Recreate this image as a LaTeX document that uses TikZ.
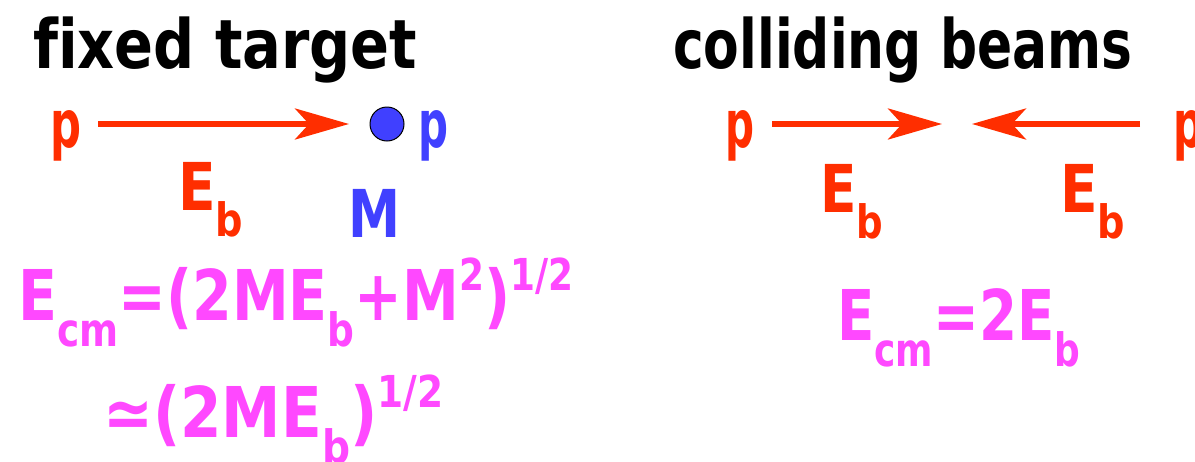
\documentclass[tikz,border=0pt]{standalone}
\usepackage{graphicx}
\usepackage{fontspec}
\setmainfont{DejaVu Sans}[Ligatures={NoCommon}]
\usetikzlibrary{arrows.meta}
\definecolor{pred}{HTML}{FF2E00}
\definecolor{pblue}{HTML}{4040FF}
\definecolor{pmag}{HTML}{FF48FF}
\newsavebox\fitbox
% scale content horizontally to a given width (in pt)
\newcommand\fitw[2]{\sbox\fitbox{#2}\pgfmathsetmacro\fitxs{#1/\wd\fitbox}\scalebox{\fitxs}[1]{\usebox\fitbox}}
\newcommand\lo[1]{\raisebox{-26pt}{\fontsize{46}{48}\selectfont #1}}
\newcommand\hi[1]{\raisebox{30pt}{\fontsize{44}{46}\selectfont #1}}
\tikzset{
  txt/.style={inner sep=0pt, anchor=base west},
  ttl/.style={txt, text=black, font=\fontsize{68}{70}\selectfont\bfseries},
  lbl/.style={txt, font=\fontsize{66}{68}\selectfont\bfseries},
  frm/.style={txt, text=pmag, font=\fontsize{70}{72}\selectfont\bfseries},
  beam/.style={pred, line width=5.5pt, -{Stealth[length=54pt, width=31pt, inset=14pt]}},
}
\begin{document}
\begin{tikzpicture}[x=1pt, y=-1pt]
\useasboundingbox (0,0) rectangle (1195,461);
% titles
\node[ttl] (t1) at (33,68) {\fitw{384}{fixed target}};
\node[ttl] (t2) at (673,68) {\fitw{459}{colliding beams}};
% fixed target
\node[lbl, text=pred] (p1) at (50,147) {\fitw{31}{p}};
\node[circle, draw=black, line width=1pt, fill=pblue, minimum size=34pt, inner sep=0pt] (dot) at (387,124) {};
\coordinate (a1s) at (98,124);
\coordinate (a1e) at (349,124);
\draw[beam] (a1s) -- (a1e);
\node[lbl, text=pblue] (p2) at (418,147) {\fitw{30}{p}};
\node[lbl, text=pred] (eb1) at (178,210) {\fitw{65}{E\lo{b}}};
\node[lbl, text=pblue] (m) at (348,237) {\fitw{52}{M}};
\node[frm] (f1) at (18,320) {\fitw{555}{E\lo{cm}=(2ME\lo{b}+M\hi{2})\hi{1/2}}};
\node[frm] (f2) at (103,437) {\fitw{340}{≃(2ME\lo{b})\hi{1/2}}};
% colliding beams
\node[lbl, text=pred] (p3) at (725,147) {\fitw{29}{p}};
\node[lbl, text=pred] (p4) at (1173,147) {\fitw{30}{p}};
\coordinate (b1s) at (772,124);
\coordinate (b1e) at (942,124);
\coordinate (b2s) at (1140,124);
\coordinate (b2e) at (972,124);
\draw[beam] (b1s) -- (b1e);
\draw[beam] (b2s) -- (b2e);
\node[lbl, text=pred] (eb2) at (820,212) {\fitw{63}{E\lo{b}}};
\node[lbl, text=pred] (eb3) at (1060,212) {\fitw{65}{E\lo{b}}};
\node[frm] (f3) at (837,340) {\fitw{243}{E\lo{cm}=2E\lo{b}}};
\end{tikzpicture}
\end{document}
